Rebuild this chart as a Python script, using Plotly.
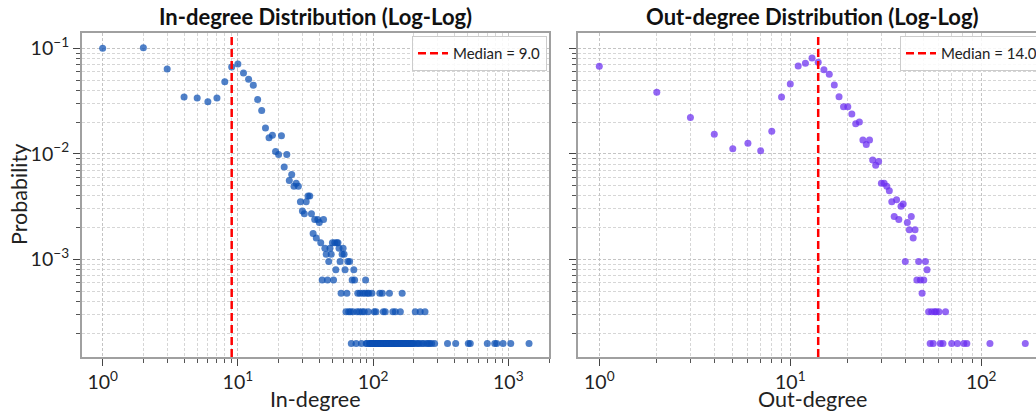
import plotly.graph_objects as go

# ---------------- data ----------------
N_NODES = 6280  # total nodes used to normalise counts into probabilities

MEDIAN_IN = 9.0
MEDIAN_OUT = 14.0

# In-degree distribution: degree values and node counts
in_degree = [
    1, 2, 3, 4, 5, 6, 7, 8, 9, 10, 11, 12, 13, 14, 15, 16, 17, 18, 19, 20,
    21, 22, 23, 24, 25, 26, 27, 28, 29, 30, 31, 32, 33, 34, 35, 37, 39, 40, 43,
    36, 38,
    41, 50, 52, 54, 55,
    44, 48, 56, 60,
    45, 49, 59, 61,
    47, 57, 65, 67,
    53, 62, 72,
    42, 46, 51, 70, 73, 88,
    58, 64, 77, 80, 84, 87, 91, 93, 98, 112, 117, 132, 164,
    63, 66, 68, 71, 76, 79, 83, 86, 92, 102, 105, 119, 123, 140, 146, 159, 205, 223, 242,
    69, 75, 82, 89, 90, 94, 95, 96, 97, 99, 100, 101, 103, 104, 106, 107, 108, 109, 110,
    111, 113, 114, 115, 116, 118, 120, 121, 122, 124, 125, 126, 127, 128, 130, 131, 133,
    134, 135, 137, 138, 139, 141, 142, 144, 145, 148, 150, 151, 153, 155, 157, 160, 162,
    163, 166, 168, 170, 173, 175, 178, 180, 183, 186, 189, 192, 195, 198, 201, 210, 215,
    220, 230, 236, 248, 255, 262, 271, 285, 355, 408, 506, 523, 699, 793, 821, 914, 1042, 1423,
]
in_count = [
    628, 636, 400, 217, 212, 196, 212, 303, 418, 446, 366, 319, 280, 205, 162, 110, 89, 94, 66, 62,
    93, 47, 62, 35, 40, 31, 33, 31, 22, 18, 17, 22, 25, 25, 17, 15, 15, 14, 15,
    11, 10,
    9, 9, 9, 9, 9,
    8, 8, 8, 8,
    7, 7, 7, 7,
    6, 6, 6, 6,
    5, 5, 5,
    4, 4, 4, 4, 4, 4,
    3, 3, 3, 3, 3, 3, 3, 3, 3, 3, 3, 3, 3,
    2, 2, 2, 2, 2, 2, 2, 2, 2, 2, 2, 2, 2, 2, 2, 2, 2, 2, 2,
    1, 1, 1, 1, 1, 1, 1, 1, 1, 1, 1, 1, 1, 1, 1, 1, 1, 1, 1,
    1, 1, 1, 1, 1, 1, 1, 1, 1, 1, 1, 1, 1, 1, 1, 1, 1,
    1, 1, 1, 1, 1, 1, 1, 1, 1, 1, 1, 1, 1, 1, 1, 1, 1,
    1, 1, 1, 1, 1, 1, 1, 1, 1, 1, 1, 1, 1, 1, 1, 1, 1,
    1, 1, 1, 1, 1, 1, 1, 1, 1, 1, 1, 1, 1, 1, 1, 1, 1, 1,
]

# Out-degree distribution: degree values and node counts
out_degree = [
    1, 2, 3, 4, 5, 6, 7, 8, 9, 10, 11, 12, 13, 14, 15, 16, 17, 18, 19, 20,
    21, 22, 23, 24, 25, 26, 27, 28, 29, 30, 31, 32, 33, 34, 35, 36, 37, 38, 39, 40,
    41, 42, 43, 44, 45, 46, 47, 48, 49, 50, 51, 52, 53, 54, 55, 56, 57, 58, 60, 61,
    63, 65, 70, 75, 81, 84, 111, 170,
]
out_count = [
    424, 240, 139, 96, 70, 79, 67, 103, 217, 288, 427, 453, 508, 462, 394, 356, 282, 218, 175, 175,
    150, 121, 126, 85, 77, 85, 55, 49, 53, 33, 33, 31, 28, 22, 16, 23, 15, 20, 21, 6,
    14, 12, 16, 10, 12, 4, 6, 4, 3, 4, 6, 5, 2, 1, 2, 1, 2, 2, 2, 1,
    1, 2, 1, 1, 1, 1, 1, 1,
]

x_tick_vals_in = [1, 10, 100, 1000]
x_tick_text_in = ["10<sup>0</sup>", "10<sup>1</sup>", "10<sup>2</sup>", "10<sup>3</sup>"]
x_tick_vals_out = [1, 10, 100]
x_tick_text_out = ["10<sup>0</sup>", "10<sup>1</sup>", "10<sup>2</sup>"]
y_tick_vals = [0.001, 0.01, 0.1]
y_tick_text = ["10<sup>\u22123</sup>", "10<sup>\u22122</sup>", "10<sup>\u22121</sup>"]

# ---------------- styling ----------------
W, H = 1060, 412
FONT = "Lato"
IN_COLOR = "#0b4fb3"
OUT_COLOR = "#6a2cf0"
FRAME = "#a0a0a0"
GRID = "#c4c4c4"
GRID_MINOR = "#d6d6d6"

in_prob = [c / N_NODES for c in in_count]
out_prob = [c / N_NODES for c in out_count]

minor_x = [m * 10 ** e for e in range(0, 4) for m in range(2, 10)]
minor_y = [m * 10 ** e for e in range(-4, 0) for m in range(2, 10)]

fig = go.Figure()
fig.add_trace(go.Scatter(
    x=in_degree, y=in_prob, mode="markers", xaxis="x", yaxis="y",
    marker=dict(color=IN_COLOR, size=7, opacity=0.72, line=dict(width=0)),
    showlegend=False, hoverinfo="skip"))
fig.add_trace(go.Scatter(
    x=out_degree, y=out_prob, mode="markers", xaxis="x2", yaxis="y2",
    marker=dict(color=OUT_COLOR, size=7, opacity=0.72, line=dict(width=0)),
    showlegend=False, hoverinfo="skip"))

fig.add_shape(type="line", xref="x", yref="y domain", x0=MEDIAN_IN, x1=MEDIAN_IN, y0=0, y1=1,
              line=dict(color="red", width=2.5, dash="8px,4px"),
              showlegend=True, name=f"Median = {MEDIAN_IN:.1f}", legend="legend")
fig.add_shape(type="line", xref="x2", yref="y2 domain", x0=MEDIAN_OUT, x1=MEDIAN_OUT, y0=0, y1=1,
              line=dict(color="red", width=2.5, dash="8px,4px"),
              showlegend=True, name=f"Median = {MEDIAN_OUT:.1f}", legend="legend2")


def xaxis(domain, rng, tv, tt, minor_vals):
    return dict(
        type="log", domain=domain, range=rng,
        tickmode="array", tickvals=tv, ticktext=tt,
        tickfont=dict(family=FONT, size=19.5, color="#222"),
        ticks="outside", ticklen=7, tickwidth=1.1, tickcolor="#444",
        showline=True, mirror=True, linecolor=FRAME, linewidth=1.5,
        showgrid=True, gridcolor=GRID, gridwidth=0.8, griddash="3px,2px",
        zeroline=False, automargin=False,
        minor=dict(tickmode="array", tickvals=minor_vals, ticks="outside", ticklen=4,
                   tickwidth=0.9, tickcolor="#555", showgrid=True,
                   gridcolor=GRID_MINOR, gridwidth=0.6, griddash="3px,2px"),
    )


def yaxis(anchor, labels):
    return dict(
        type="log", domain=[(H - 357) / H, (H - 33) / H], range=[-3.926, -0.855],
        anchor=anchor,
        tickmode="array", tickvals=y_tick_vals, ticktext=y_tick_text,
        showticklabels=labels,
        tickfont=dict(family=FONT, size=19.5, color="#222"),
        ticks="outside", ticklen=7, tickwidth=1.1, tickcolor="#444",
        showline=True, mirror=True, linecolor=FRAME, linewidth=1.5,
        showgrid=True, gridcolor=GRID, gridwidth=0.8, griddash="3px,2px",
        zeroline=False, automargin=False,
        minor=dict(tickmode="array", tickvals=minor_y, ticks="outside", ticklen=4,
                   tickwidth=0.9, tickcolor="#555", showgrid=True,
                   gridcolor=GRID_MINOR, gridwidth=0.6, griddash="3px,2px"),
    )


left_dom = [81.7 / W, 549.3 / W]
right_dom = [578 / W, 1046.6 / W]

legend_common = dict(
    y=(H - 36) / H, yanchor="top",
    bgcolor="rgba(255,255,255,0.85)", bordercolor="#cccccc", borderwidth=1,
    font=dict(family=FONT, size=15, color="#222"), itemwidth=30,
)

fig.update_layout(
    width=W, height=H, template="none",
    margin=dict(l=0, r=0, t=0, b=0, pad=0),
    paper_bgcolor="white", plot_bgcolor="white",
    font=dict(family=FONT, color="#222"),
    xaxis=dict(**xaxis(left_dom, [-0.155, 3.303], x_tick_vals_in, x_tick_text_in, minor_x), anchor="y"),
    yaxis=yaxis("x", True),
    xaxis2=dict(**xaxis(right_dom, [-0.1115, 2.342], x_tick_vals_out, x_tick_text_out, minor_x), anchor="y2"),
    yaxis2=yaxis("x2", False),
    legend=dict(x=547 / W, xanchor="right", **legend_common),
    legend2=dict(x=1043 / W, xanchor="right", **legend_common),
    annotations=[
        dict(text="<b>In-degree Distribution (Log-Log)</b>", xref="paper", yref="paper",
             x=sum(left_dom) / 2, y=(H - 17) / H, xanchor="center", yanchor="middle",
             showarrow=False, font=dict(family=FONT, size=22, color="#111")),
        dict(text="<b>Out-degree Distribution (Log-Log)</b>", xref="paper", yref="paper",
             x=sum(right_dom) / 2, y=(H - 17) / H, xanchor="center", yanchor="middle",
             showarrow=False, font=dict(family=FONT, size=22, color="#111")),
        dict(text="In-degree", xref="paper", yref="paper",
             x=sum(left_dom) / 2, y=(H - 398.5) / H, xanchor="center", yanchor="middle",
             showarrow=False, font=dict(family=FONT, size=21.5, color="#222")),
        dict(text="Out-degree", xref="paper", yref="paper",
             x=sum(right_dom) / 2, y=(H - 398.5) / H, xanchor="center", yanchor="middle",
             showarrow=False, font=dict(family=FONT, size=21.5, color="#222")),
        dict(text="Probability", xref="paper", yref="paper", textangle=-90,
             x=19 / W, y=(H - 195) / H, xanchor="center", yanchor="middle",
             showarrow=False, font=dict(family=FONT, size=21.5, color="#222")),
    ],
)

fig.write_html(
    "out.html",
    post_script="document.documentElement.style.overflow='hidden';document.body.style.overflow='hidden';",
)
